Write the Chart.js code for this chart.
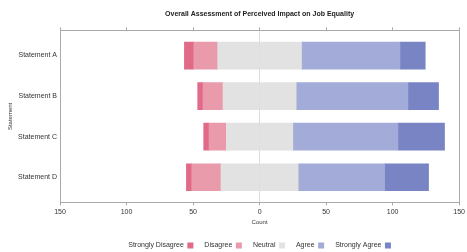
<!DOCTYPE html>
<html>
<head>
<meta charset="utf-8">
<script src="https://cdn.jsdelivr.net/npm/chart.js@4/dist/chart.umd.min.js"></script>
<style>
  html, body { margin: 0; padding: 0; background: #fff; }
  #wrap { width: 467px; height: 252px; }
</style>
</head>
<body>
<div id="wrap"><canvas id="chart"></canvas></div>
<script>
const statements = ["Statement A", "Statement B", "Statement C", "Statement D"];
const stronglyDisagree = [7, 4, 4, 4];
const disagree = [18, 15, 13, 22];
const neutral = [63, 55, 50, 58];
const agree = [74, 84, 79, 65];
const stronglyAgree = [19, 23, 35, 33];
const xTicks = [-150, -100, -50, 0, 50, 100, 150];
const legendOrder = ["Strongly Disagree", "Disagree", "Neutral", "Agree", "Strongly Agree"];

const colors = {
  sd: "#e06a88",
  d: "#e99aab",
  n: "#e2e2e2",
  a: "#a3abd8",
  sa: "#7884c4"
};

// points along a linear y so the rows sit like the original
function pts(vals, sign) {
  return vals.map((v, i) => ({ x: sign * v, y: i }));
}

Chart.defaults.font.family = "'Liberation Sans', Arial, sans-serif";
Chart.defaults.font.size = 7;
Chart.defaults.color = "#333";

const bar = { barThickness: 27, borderWidth: 0, stack: "s" };

// centre title and legend over the plot area, not the canvas
const centerOnArea = {
  id: "centerOnArea",
  afterLayout(chart) {
    const ca = chart.chartArea;
    const w = chart.width;
    [chart.titleBlock, chart.legend].forEach(b => {
      if (!b) return;
      b.left = ca.left - (w - ca.right);
      b.right = w;
      b.width = b.right - b.left;
    });
  }
};

new Chart(document.getElementById("chart"), {
  type: "bar",
  data: {
    datasets: [
      Object.assign({ label: "Neutral-left", data: pts(neutral.map(v => v / 2), -1), backgroundColor: colors.n }, bar),
      Object.assign({ label: "Disagree", data: pts(disagree, -1), backgroundColor: colors.d }, bar),
      Object.assign({ label: "Strongly Disagree", data: pts(stronglyDisagree, -1), backgroundColor: colors.sd }, bar),
      Object.assign({ label: "Neutral", data: pts(neutral.map(v => v / 2), 1), backgroundColor: colors.n }, bar),
      Object.assign({ label: "Agree", data: pts(agree, 1), backgroundColor: colors.a }, bar),
      Object.assign({ label: "Strongly Agree", data: pts(stronglyAgree, 1), backgroundColor: colors.sa }, bar)
    ]
  },
  options: {
    indexAxis: "y",
    responsive: true,
    maintainAspectRatio: false,
    animation: false,
    layout: { padding: { left: 7, right: 5, top: 0, bottom: -7 } },
    scales: {
      x: {
        type: "linear",
        stacked: true,
        min: -150,
        max: 150,
        afterBuildTicks: s => { s.ticks = xTicks.map(v => ({ value: v })); },
        ticks: { callback: v => Math.abs(v), padding: 2, maxRotation: 0 },
        grid: {
          color: c => (c.tick && c.tick.value === 0 ? "#dcdcdc" : "rgba(0,0,0,0)"),
          tickColor: "#aaa",
          tickLength: 3
        },
        border: { color: "#aaa" },
        title: { display: true, text: "Count", font: { size: 6 }, padding: { top: 1, bottom: 5 } }
      },
      x2: {
        type: "linear",
        position: "top",
        min: -150,
        max: 150,
        afterBuildTicks: s => { s.ticks = xTicks.map(v => ({ value: v })); },
        ticks: { display: false },
        grid: { drawOnChartArea: false, tickColor: "#aaa", tickLength: 3 },
        border: { color: "#aaa" }
      },
      y: {
        type: "linear",
        stacked: true,
        reverse: true,
        offset: false,
        min: -0.62,
        max: 3.62,
        afterBuildTicks: s => { s.ticks = statements.map((_, i) => ({ value: i })); },
        afterFit: s => { s.width = 53; },
        ticks: { callback: v => statements[v], padding: 3 },
        grid: { display: false, drawTicks: false },
        border: { color: "#aaa" },
        title: { display: true, text: "Statement", font: { size: 6 }, padding: 0 }
      },
      y2: {
        type: "linear",
        position: "right",
        min: 0,
        max: 1,
        ticks: { display: false },
        grid: { display: false, drawTicks: false },
        border: { color: "#aaa" }
      }
    },
    plugins: {
      title: {
        display: true,
        text: "Overall Assessment of Perceived Impact on Job Equality",
        font: { size: 7, weight: "bold" },
        color: "#222",
        padding: { top: 10, bottom: 9 }
      },
      legend: {
        position: "bottom",
        rtl: true,
        textDirection: "ltr",
        labels: {
          boxWidth: 6,
          boxHeight: 6,
          padding: 11,
          color: "#333",
          filter: item => item.text !== "Neutral-left",
          // rtl lays items out from the right, so feed them in reverse
          sort: (a, b) => legendOrder.indexOf(b.text) - legendOrder.indexOf(a.text)
        }
      },
      tooltip: { enabled: false }
    }
  },
  plugins: [centerOnArea]
});
</script>
</body>
</html>
